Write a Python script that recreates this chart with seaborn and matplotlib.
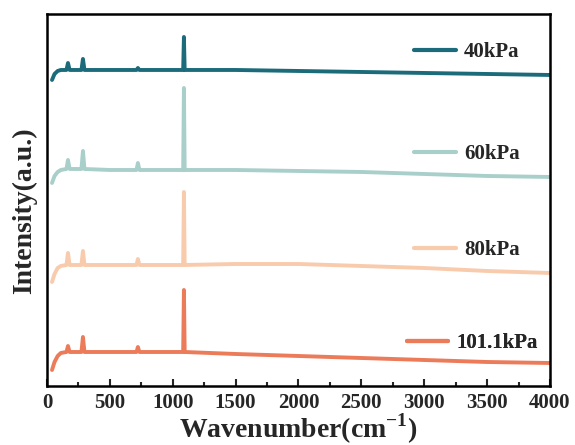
import matplotlib
matplotlib.use('Agg')
import seaborn as sns
from matplotlib import pyplot as plt
from matplotlib.lines import Line2D
from matplotlib.ticker import MultipleLocator

# Raman-like spectra, stacked with an offset (a.u.)
wavenumber = [40, 60, 85, 110, 155, 167, 180, 274, 286, 298, 500, 712, 723, 735,
              1000, 1083, 1089, 1095, 1500, 2000, 2500, 3000, 3500, 4000]
i_40kpa = [304, 310, 313, 314, 314, 321, 314, 314, 325, 314, 314, 314, 316, 314,
           314, 314, 347, 314, 314, 313, 312, 311, 310, 309]
i_60kpa = [201, 208, 212, 214, 215, 224, 215, 215, 233, 215, 214, 214, 221, 214,
           214, 214, 296, 214, 214, 213, 212, 210, 208, 207]
i_80kpa = [102, 110, 116, 118, 119, 131, 119, 119, 133, 119, 119, 119, 125, 119,
           119, 119, 192, 119, 120, 120, 118, 116, 113, 111]
i_101kpa = [14, 22, 28, 31, 32, 38, 32, 32, 47, 32, 32, 32, 37, 32,
            32, 32, 94, 32, 30, 28, 26, 24, 22, 21]

labels = ['40kPa', '60kPa', '80kPa', '101.1kPa']
colors = ['#1b6b7b', '#a9cfca', '#f8cbad', '#ec7b5a']
series = [i_40kpa, i_60kpa, i_80kpa, i_101kpa]
label_y = [0.898, 0.624, 0.366, 0.116]
label_x = [0.73, 0.73, 0.73, 0.715]

sns.set_style('ticks')
plt.rcParams['font.family'] = 'serif'
plt.rcParams['font.serif'] = ['Liberation Serif', 'DejaVu Serif']
plt.rcParams['font.weight'] = 'bold'
plt.rcParams['mathtext.fontset'] = 'custom'
plt.rcParams['mathtext.rm'] = 'Liberation Serif:bold'
plt.rcParams['mathtext.bf'] = 'Liberation Serif:bold'

fig = plt.figure(figsize=(5.75, 4.45), dpi=100)
ax = fig.add_axes([0.0817, 0.1326, 0.8748, 0.836])

for y, c in zip(series, colors):
    sns.lineplot(x=wavenumber, y=y, ax=ax, color=c, linewidth=2.8)

for lab, c, lx, ly in zip(labels, colors, label_x, label_y):
    h = Line2D([], [], color=c, linewidth=3)
    leg = ax.legend([h], [lab], loc='center left', bbox_to_anchor=(lx, ly),
                    frameon=False, handlelength=2.0, handletextpad=0.4,
                    borderpad=0, borderaxespad=0,
                    prop={'family': 'serif', 'size': 15, 'weight': 'bold'})
    ax.add_artist(leg)

ax.set_xlim(0, 4000)
ax.set_ylim(-2, 370)
ax.xaxis.set_major_locator(MultipleLocator(500))
ax.xaxis.set_minor_locator(MultipleLocator(250))
ax.set_yticks([])
ax.tick_params(axis='x', which='major', direction='in', length=5, width=1.5,
               labelsize=15, pad=5)
ax.tick_params(axis='x', which='minor', direction='in', length=3, width=1.5)
for lbl in ax.get_xticklabels():
    lbl.set_fontweight('bold')
for s in ax.spines.values():
    s.set_linewidth(1.8)
    s.set_color('black')

ax.set_xlabel(r'Wavenumber(cm$^{-1}$)', fontsize=20, fontweight='bold')
ax.xaxis.set_label_coords(0.5, -0.068)
ax.set_ylabel('Intensity(a.u.)', fontsize=20, fontweight='bold')
ax.yaxis.set_label_coords(-0.02, 0.47)

fig.savefig('out.png', dpi=100)
